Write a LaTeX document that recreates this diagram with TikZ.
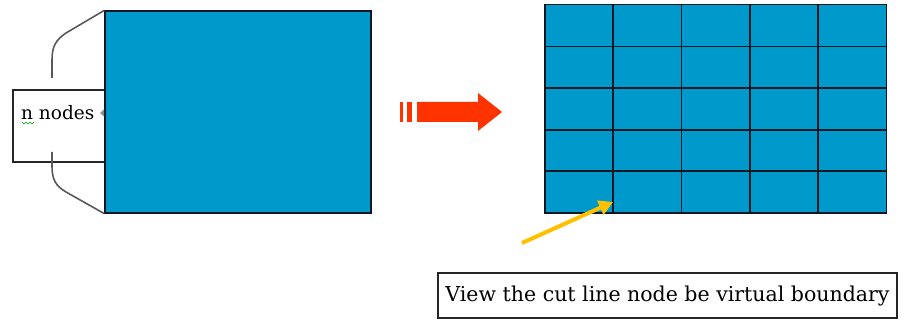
\documentclass[tikz,border=0pt]{standalone}
\usepackage{fontspec}
\setmainfont{DejaVu Serif}
\usetikzlibrary{arrows.meta,positioning}
\definecolor{cellblue}{RGB}{0,153,204}
\definecolor{gridline}{RGB}{10,24,36}
\definecolor{moveorange}{RGB}{255,51,0}
\definecolor{hintgold}{RGB}{255,192,0}

\begin{document}
\begin{tikzpicture}[
  x=1pt, y=-1pt,
  block/.style={draw=gridline, fill=cellblue, line width=1.3pt, inner sep=0pt},
  cell/.style={fill=cellblue, inner sep=0pt,
    minimum width=68.2pt, minimum height=41.6pt},
  cellrule/.style={draw=gridline, line width=1.4pt},
  label/.style={draw=black!85, fill=white, line width=1.1pt, inner sep=0pt},
  brace/.style={draw=black!65, line width=1.6pt},
  hint/.style={draw=hintgold, line width=4pt, -{Triangle[length=14pt,width=15pt]}}
]
\useasboundingbox (0,0) rectangle (909,320);

% whole domain with the n-node strip on its left
\node[label, minimum width=92pt, minimum height=72pt] (strip) at (59,126) {};
\node[block, minimum width=266pt, minimum height=202pt] (domain) at (238,112) {};
\node[font=\fontsize{18.5}{18.5}\selectfont, anchor=west, inner sep=0pt] (count) at (21,113) {n nodes};
\fill[black!45] (104,109.5) -- (104,116.5) -- (100,113) -- cycle;
\draw[green!60!black, line width=0.6pt] (22,122) -- (24,124) -- (26,122) -- (28,124) -- (30,122) -- (32,124) -- (34,122);

\coordinate (topend) at (52,78);
\coordinate (botend) at (52,152);
\draw[brace] (topend) -- (52,60) .. controls (52,46) and (56,40) .. (66,33) -- (domain.north west);
\draw[brace] (botend) -- (52,166) .. controls (52,180) and (56,186) .. (66,192) -- (domain.south west);

% partition arrow
\fill[moveorange] (417,102) -- (478,102) -- (478,93) -- (502,112) -- (478,131) -- (478,122) -- (417,122) -- cycle;
\fill[moveorange] (400,102) rectangle (403,122);
\fill[moveorange] (407,102) rectangle (412,122);

% partitioned domain, 5 x 5 cells (fill first, rules on top)
\foreach \i in {1,...,5}
  \foreach \j in {1,...,5}
    \node[cell] (cell-\i-\j) at ({545+68.2*(\i-0.5)},{5+41.6*(\j-0.5)}) {};
\foreach \i in {1,...,5}
  \foreach \j in {1,...,5}
    \draw[cellrule] (cell-\i-\j.north west) rectangle (cell-\i-\j.south east);
\draw[gridline, line width=2.2pt] (cell-1-3.north west) -- (cell-4-3.north east);

% cut line note
\coordinate (cutpoint) at (613,202);
\coordinate (hinttail) at (522,243);
\draw[hint] (hinttail) -- (cutpoint);
\node[label, minimum width=459pt, minimum height=45pt,
  font=\fontsize{20.5}{20.5}\selectfont] (note) at (667.5,295.5) {View the cut line node be virtual boundary};
\end{tikzpicture}
\end{document}
